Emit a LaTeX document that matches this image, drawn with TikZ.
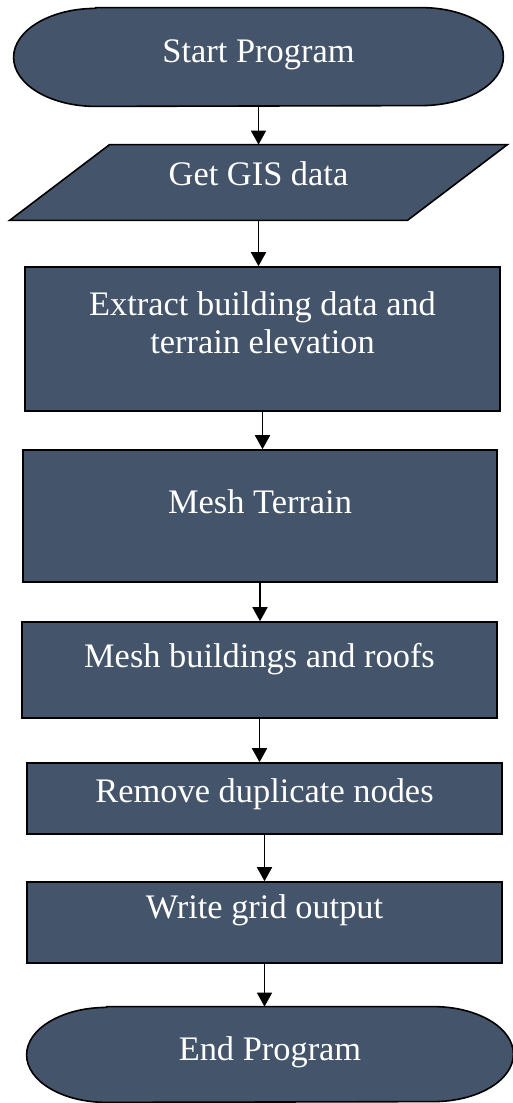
\documentclass[tikz,border=0pt]{standalone}
\usepackage{fontspec}
\setmainfont{Liberation Serif}
\usetikzlibrary{arrows.meta,backgrounds}
\definecolor{slate}{HTML}{44546A}
\begin{document}
\begin{tikzpicture}
[
    x=0.5pt, y=-0.5pt,
    every node/.style={inner sep=0pt, text=white, align=center,
        font=\fontsize{17.2}{19}\selectfont},
    process/.style={draw=black, line width=0.8pt, fill=slate, minimum width=237.5pt},
    terminal/.style={minimum width=#1},
    io/.style={minimum width=248.5pt, minimum height=37.5pt},
    outline/.style={draw=black, line width=0.8pt, fill=slate},
    flow/.style={line width=0.9pt, -{Triangle[width=7.5pt,length=7pt]}},
]
\useasboundingbox (0,0) rectangle (513,1103);

\node[terminal=244.5pt, minimum height=49pt, text height=8.5pt, text depth=3.5pt] (start) at (258.5,57) {Start Program};
\node[io, text height=7.25pt, text depth=4.75pt] (gis) at (258.5,182.5) {Get GIS data};
\node[process, minimum height=72pt, text height=17pt, text depth=3pt] (extract) at (262.5,339)
    {Extract building data and\\terrain elevation};
\node[process, minimum width=237pt, minimum height=66pt, text height=4.5pt, text depth=7.5pt] (terrain) at (260,516) {Mesh Terrain};
\node[process, minimum height=48pt, text height=4.5pt, text depth=7.5pt] (buildings) at (259.5,670) {Mesh buildings and roofs};
\node[process, minimum height=35.5pt, text height=7.75pt, text depth=4.25pt] (dups) at (264.5,798.5) {Remove duplicate nodes};
\node[process, minimum height=40.5pt, text height=3.75pt, text depth=8.25pt] (grid) at (264.5,922.5) {Write grid output};
\node[terminal=243pt, minimum height=47.5pt, text height=8.75pt, text depth=3.25pt] (stop) at (270,1054.5) {End Program};

% shapes behind the terminal and input nodes
\begin{scope}[on background layer]
\draw[outline] ([xshift=41pt]start.north west) -- ([xshift=-41pt]start.north east)
    arc[start angle=90, end angle=-90, x radius=41pt, y radius=24.5pt]
    -- ([xshift=41pt]start.south west)
    arc[start angle=270, end angle=90, x radius=41pt, y radius=24.5pt] -- cycle;
\draw[outline] ([xshift=40pt]stop.north west) -- ([xshift=-40pt]stop.north east)
    arc[start angle=90, end angle=-90, x radius=40pt, y radius=23.75pt]
    -- ([xshift=40pt]stop.south west)
    arc[start angle=270, end angle=90, x radius=40pt, y radius=23.75pt] -- cycle;
\draw[outline] ([xshift=50pt]gis.north west) -- (gis.north east)
    -- ([xshift=-50pt]gis.south east) -- (gis.south west) -- cycle;
\end{scope}

\foreach \a/\b in {start/gis, gis/extract, extract/terrain, terrain/buildings,
                   buildings/dups, dups/grid, grid/stop}
    \draw[flow] (\a.south) -- (\a.south |- \b.north);
\end{tikzpicture}
\end{document}
